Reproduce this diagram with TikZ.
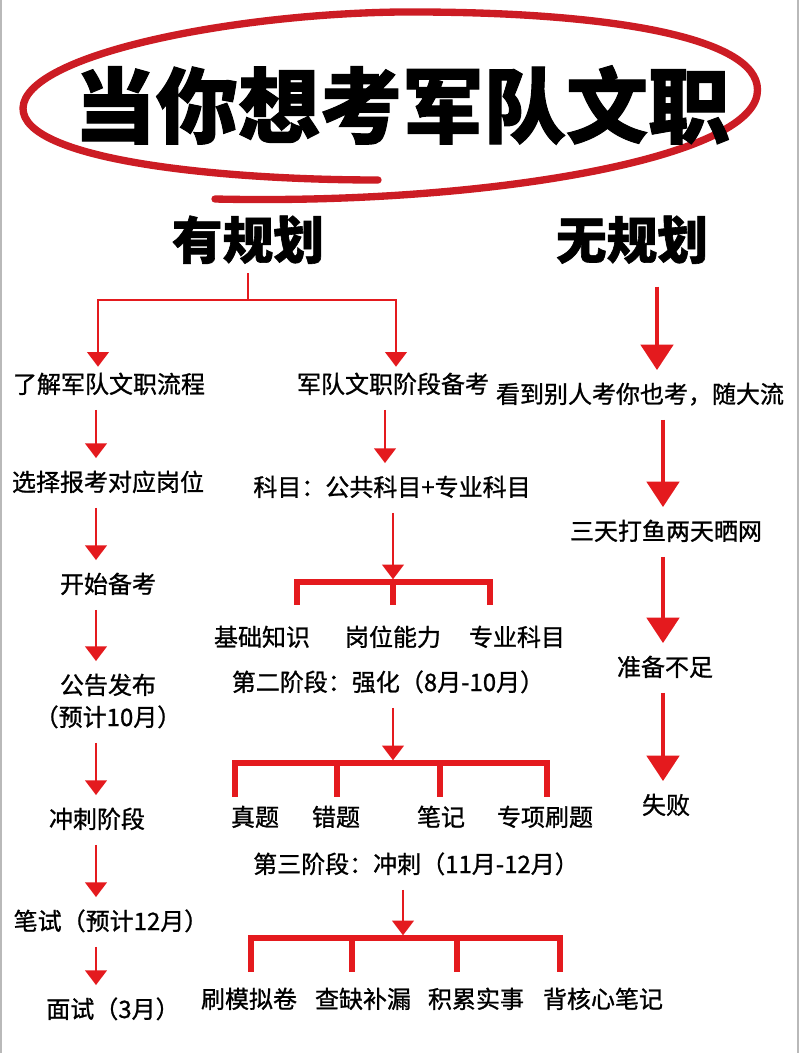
\documentclass[tikz,border=0pt]{standalone}
\usepackage{fontspec}
\setmainfont{Noto Sans CJK SC}
\newfontfamily\zhfont{Noto Sans CJK SC}[FakeBold=1.0]
\newfontfamily\titlefont{Noto Sans CJK SC}[BoldFeatures={FakeBold=1.2}]
\usetikzlibrary{arrows.meta}
\definecolor{hong}{RGB}{228,26,30}
\definecolor{quan}{RGB}{204,28,36}

\begin{document}
\begin{tikzpicture}[x=0.75pt,y=-0.75pt,
  txt/.style={inner xsep=0pt,inner ysep=9.5pt,text height=15pt,text depth=3pt,font=\zhfont\fontsize{18}{22}\selectfont},
  sub/.style={inner sep=0pt,text height=33pt,text depth=4.5pt,font=\titlefont\bfseries\fontsize{38}{40}\selectfont},
  arr/.style={-{Triangle[width=16pt,length=11pt]},line width=2.2pt,hong},
  bigarr/.style={-{Triangle[width=24pt,length=19pt]},line width=3.4pt,hong},
  fork/.style={line width=2.2pt,hong,line cap=rect},
  bar/.style={line width=4.5pt,hong,line cap=rect},
  leg/.style={line width=4.5pt,hong,shorten >=#1}]

  \useasboundingbox (0,0) rectangle (800,1053);
  \fill[white] (0,0) rectangle (800,1053);
  \draw[gray!55,line width=1.2pt] (1,0) -- (1,1053) (798,0) -- (798,1053);

  \draw[quan,line width=5.5pt,line cap=round] (215,199) .. controls (480,205) and (745,160) .. (757,95)
    .. controls (767,40) and (620,11) .. (400,12)
    .. controls (230,14) and (25,55) .. (23,108)
    .. controls (22,160) and (220,180) .. (378,180);

  \node[inner sep=0pt,font=\titlefont\bfseries\fontsize{61.5}{66}\selectfont] (title) at (402,105) {当你想考军队文职};
  \node[sub] (plan) at (248,240) {有规划};
  \node[sub] (noplan) at (632,240) {无规划};

  % 有规划：左列
  \coordinate (lx) at (96,0);
  \node[txt] (l1) at (109,385) {了解军队文职流程};
  \node[txt] (l2) at (108,483) {选择报考对应岗位};
  \node[txt] (l3) at (108,585) {开始备考};
  \node[txt] (l4) at (108,686) {公告发布};
  \node[txt] (l5) at (108,718) {（预计10月）};
  \node[txt] (l6) at (97,820) {冲刺阶段};
  \node[txt] (l7) at (111,922) {笔试（预计12月）};
  \node[txt] (l8) at (113,1010) {面试（3月）};

  \coordinate (f0) at (248,300);
  \coordinate (fa) at (98,300);
  \coordinate (fb) at (396,300);
  \draw[fork,shorten <=7pt] (plan.south -| f0) -- (f0);
  \draw[fork] (fa) -- (fb);

  \node[txt] (m1) at (393,385) {军队文职阶段备考};
  \node[txt] (m2) at (392,488) {科目：公共科目+专业科目};

  \draw[arr,shorten >=-5pt] (fa) -- (l1.north -| fa);
  \draw[arr,shorten >=-5pt] (fb) -- (m1.north -| fb);

  \draw[arr] (l1.south -| lx) -- (l2.north -| lx);
  \draw[arr] (l2.south -| lx) -- (l3.north -| lx);
  \draw[arr] (l3.south -| lx) -- (l4.north -| lx);
  \draw[arr] (l5.south -| lx) -- (l6.north -| lx);
  \draw[arr] (l6.south -| lx) -- (l7.north -| lx);
  \draw[arr] (l7.south -| lx) -- (l8.north -| lx);

  % 有规划：中列
  \draw[arr] ([xshift=-6pt]m1.south) -- ([xshift=-6pt]m1.south |- m2.north);

  \coordinate (b1) at (393,582);
  \coordinate (b1a) at (297,582);
  \coordinate (b1c) at (490,582);
  \node[txt] (j1) at (262,638) {基础知识};
  \node[txt] (j2) at (393,638) {岗位能力};
  \node[txt] (j3) at (517,638) {专业科目};
  \draw[arr,shorten >=2pt] (m2.south -| b1) -- (b1);
  \draw[bar] (b1a) -- (b1c);
  \draw[leg=6pt] (b1a) -- (j1.north -| b1a);
  \draw[leg=6pt] (b1) -- (j2.north -| b1);
  \draw[leg=6pt] (b1c) -- (j3.north -| b1c);

  \node[txt] (m3) at (388,683) {第二阶段：强化（8月-10月）};
  \coordinate (b2) at (393,763);
  \coordinate (b2a) at (235,763);
  \coordinate (b2b) at (337,763);
  \coordinate (b2c) at (440,763);
  \coordinate (b2d) at (547,763);
  \node[txt] (t1) at (255,818) {真题};
  \node[txt] (t2) at (336,818) {错题};
  \node[txt] (t3) at (441,818) {笔记};
  \node[txt] (t4) at (545,818) {专项刷题};
  \draw[arr,shorten >=2pt] (m3.south -| b2) -- (b2);
  \draw[bar] (b2a) -- (b2d);
  \draw[leg=-3pt] (b2a) -- (t1.north -| b2a);
  \draw[leg=-3pt] (b2b) -- (t2.north -| b2b);
  \draw[leg=-3pt] (b2c) -- (t3.north -| b2c);
  \draw[leg=-3pt] (b2d) -- (t4.north -| b2d);

  \node[txt] (m4) at (416,865) {第三阶段：冲刺（11月-12月）};
  \coordinate (b3) at (403,938);
  \coordinate (b3a) at (251,938);
  \coordinate (b3b) at (352,938);
  \coordinate (b3c) at (457,938);
  \coordinate (b3d) at (560,938);
  \node[txt] (s1) at (249,1000) {刷模拟卷};
  \node[txt] (s2) at (363,1000) {查缺补漏};
  \node[txt] (s3) at (476,1000) {积累实事};
  \node[txt] (s4) at (603,1000) {背核心笔记};
  \draw[arr,shorten >=2pt] (m4.south -| b3) -- (b3);
  \draw[bar] (b3a) -- (b3d);
  \draw[leg=2.5pt] (b3a) -- (s1.north -| b3a);
  \draw[leg=2.5pt] (b3b) -- (s2.north -| b3b);
  \draw[leg=2.5pt] (b3c) -- (s3.north -| b3c);
  \draw[leg=2.5pt] (b3d) -- (s4.north -| b3d);

  % 无规划
  \coordinate (rx0) at (657,0);
  \coordinate (rx) at (663,0);
  \node[txt] (r1) at (640,395) {看到别人考你也考，随大流};
  \node[txt] (r2) at (666,532) {三天打鱼两天晒网};
  \node[txt] (r3) at (665,668) {准备不足};
  \node[txt] (r4) at (666,806) {失败};
  \draw[bigarr,shorten <=16pt] (noplan.south -| rx0) -- (r1.north -| rx0);
  \draw[bigarr] (r1.south -| rx) -- (r2.north -| rx);
  \draw[bigarr] (r2.south -| rx) -- (r3.north -| rx);
  \draw[bigarr] (r3.south -| rx) -- (r4.north -| rx);
\end{tikzpicture}
\end{document}
